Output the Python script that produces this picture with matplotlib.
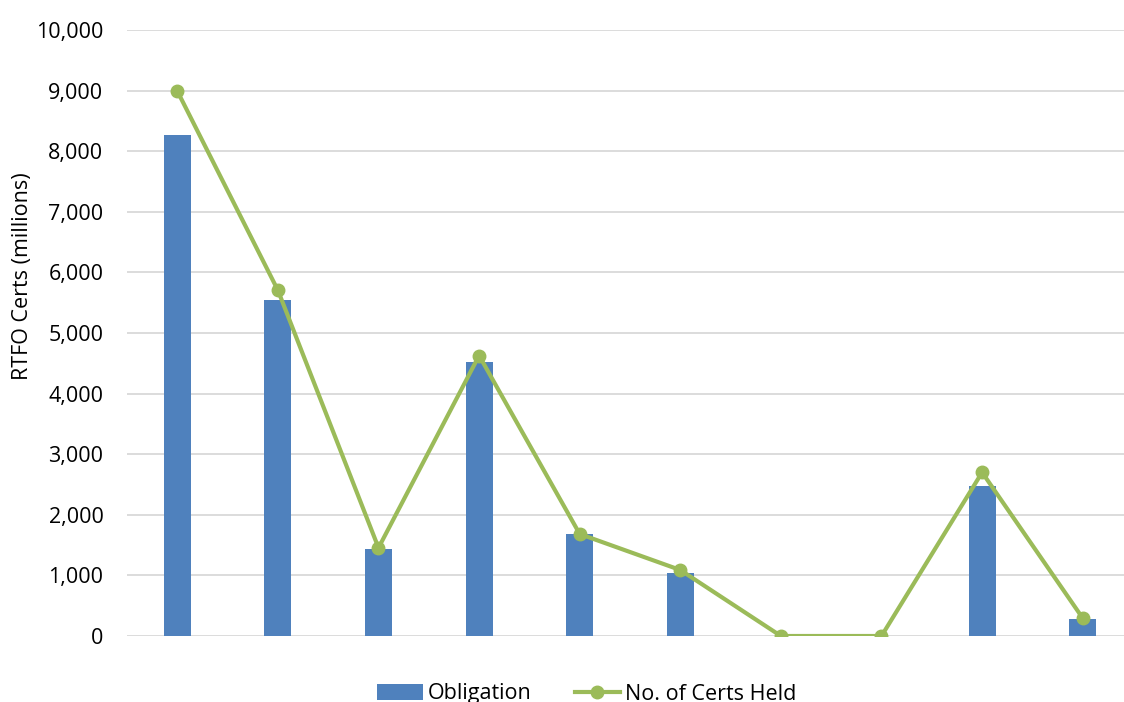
import matplotlib
matplotlib.use("Agg")
import matplotlib.pyplot as plt
from matplotlib.ticker import FuncFormatter, MultipleLocator

plt.rcParams['font.family'] = ['Open Sans', 'DejaVu Sans']

# Ten obligated suppliers (unlabelled on the axis)
suppliers = list(range(1, 11))
obligation = [8262, 5545, 1430, 4516, 1680, 1045, 0, 0, 2480, 282]
certs_held = [8993, 5705, 1455, 4628, 1683, 1089, 0, 0, 2700, 295]

bar_color = '#4F81BD'
line_color = '#9BBB59'
grid_color = '#D9D9D9'

W, H = 1124, 702
fig = plt.figure(figsize=(W / 100, H / 100), dpi=100)
ax = fig.add_axes([127 / W, 66 / H, 1006 / W, 606 / H])

x = list(range(len(suppliers)))
bars = ax.bar(x, obligation, width=0.27, color=bar_color, label='Obligation', zorder=2)
line, = ax.plot(x, certs_held, color=line_color, lw=3.0, marker='o', markersize=9,
                label='No. of Certs Held', zorder=3, solid_joinstyle='round')

ax.set_xlim(-0.5, len(suppliers) - 0.5)
ax.set_ylim(0, 10000)
ax.yaxis.set_major_locator(MultipleLocator(1000))
ax.yaxis.set_major_formatter(FuncFormatter(lambda v, p: f'{int(v):,}'))
ax.set_xticks([])
ax.tick_params(axis='y', length=0, pad=17, labelsize=15.5, labelcolor='black')
ax.grid(axis='y', color=grid_color, lw=1.3, zorder=0)
ax.set_axisbelow(True)
for s in ax.spines.values():
    s.set_visible(False)

fig.text(23 / W, 1 - 276 / H, 'RTFO Certs (millions)', rotation=90,
         ha='center', va='center', fontsize=15.5)

fig.legend([bars, line], ['Obligation', 'No. of Certs Held'],
           loc='center', bbox_to_anchor=(587 / W, 1 - 694 / H), ncol=2,
           frameon=False, fontsize=15.5, handlelength=2.1, handletextpad=0.25,
           columnspacing=2.0, borderpad=0, borderaxespad=0)

fig.savefig('out.png', dpi=100)
